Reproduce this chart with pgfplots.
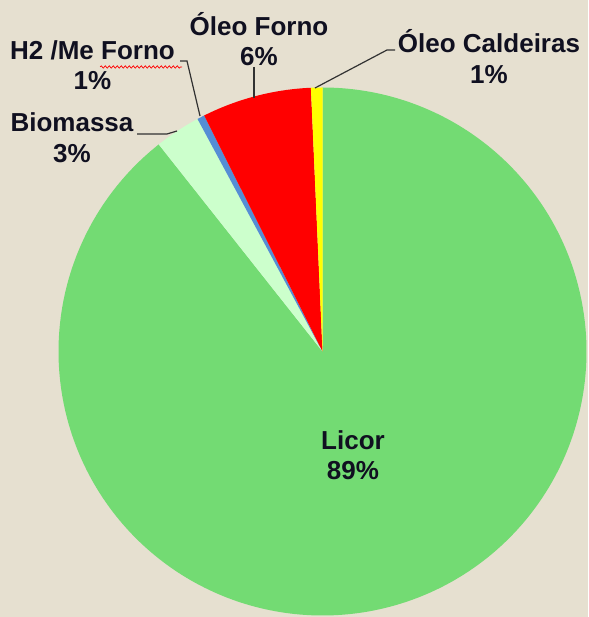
\documentclass[border=0pt]{standalone}
\usepackage{pgfplots}
\pgfplotsset{compat=1.18}
\usepackage{fontspec}
\setmainfont{Liberation Sans}
\usetikzlibrary{decorations.pathmorphing}
\definecolor{bg}{RGB}{230,224,208}
\definecolor{licor}{RGB}{115,219,115}
\definecolor{biom}{RGB}{204,255,204}
\definecolor{htwo}{RGB}{85,142,213}
\definecolor{forno}{RGB}{255,0,0}
\definecolor{cald}{RGB}{255,255,0}
\definecolor{txt}{RGB}{16,16,32}
\definecolor{lead}{RGB}{50,50,50}
% shares in percent, clockwise from 12 o'clock
\def\vLicor{89.35}
\def\vBiom{2.80}
\def\vHtwo{0.45}
\def\vForno{6.70}
\def\vCald{0.70}
\pgfmathsetmacro\aA{90}
\pgfmathsetmacro\aB{\aA-3.6*\vLicor}
\pgfmathsetmacro\aC{\aB-3.6*\vBiom}
\pgfmathsetmacro\aD{\aC-3.6*\vHtwo}
\pgfmathsetmacro\aE{\aD-3.6*\vForno}
\pgfmathsetmacro\aF{\aE-3.6*\vCald}
\def\cx{322.5}\def\cy{265.5}\def\R{264}
\begin{document}
\begin{tikzpicture}
\begin{axis}[
  scale only axis, width=588pt, height=617pt,
  xmin=0, xmax=588, ymin=0, ymax=617,
  hide axis, clip=false,
  every axis plot/.append style={draw=none},
]
\fill[bg] (axis cs:0,0) rectangle (axis cs:588,617);
\addplot[fill=licor, domain=\aB:\aA, samples=300] ({\cx+\R*cos(x)},{\cy+\R*sin(x)}) -- (axis cs:\cx,\cy) -- cycle;
\addplot[fill=biom, domain=\aC:\aB, samples=30] ({\cx+\R*cos(x)},{\cy+\R*sin(x)}) -- (axis cs:\cx,\cy) -- cycle;
\addplot[fill=htwo, domain=\aD:\aC, samples=10] ({\cx+\R*cos(x)},{\cy+\R*sin(x)}) -- (axis cs:\cx,\cy) -- cycle;
\addplot[fill=forno, domain=\aE:\aD, samples=50] ({\cx+\R*cos(x)},{\cy+\R*sin(x)}) -- (axis cs:\cx,\cy) -- cycle;
\addplot[fill=cald, domain=\aF:\aE, samples=10] ({\cx+\R*cos(x)},{\cy+\R*sin(x)}) -- (axis cs:\cx,\cy) -- cycle;
% leader lines
\draw[lead, line width=1.2pt] (axis cs:254,550) -- (axis cs:254,519);
\draw[lead, line width=1.2pt] (axis cs:180,556) -- (axis cs:187,556) -- (axis cs:200,501);
\draw[lead, line width=1.2pt] (axis cs:137,483) -- (axis cs:167,483) -- (axis cs:177,486);
\draw[lead, line width=1.2pt] (axis cs:395,567) -- (axis cs:387,567) -- (axis cs:315,529);
% labels
\begin{scope}[every node/.style={text=txt, align=center, font=\fontsize{26}{30.5}\selectfont\bfseries}]
\node at (axis cs:259,578) {Óleo Forno\\6\%};
\node at (axis cs:92.5,552) {H2 /Me Forno\\1\%};
\node at (axis cs:72,479.5) {Biomassa\\3\%};
\node at (axis cs:489,560.5) {Óleo Caldeiras\\1\%};
\node at (axis cs:353,162) {Licor\\89\%};
\end{scope}
\draw[red, line width=0.7pt, decorate, decoration={snake, amplitude=1.2pt, segment length=4pt}] (axis cs:100,550) -- (axis cs:182,550);
\end{axis}
\end{tikzpicture}
\end{document}
